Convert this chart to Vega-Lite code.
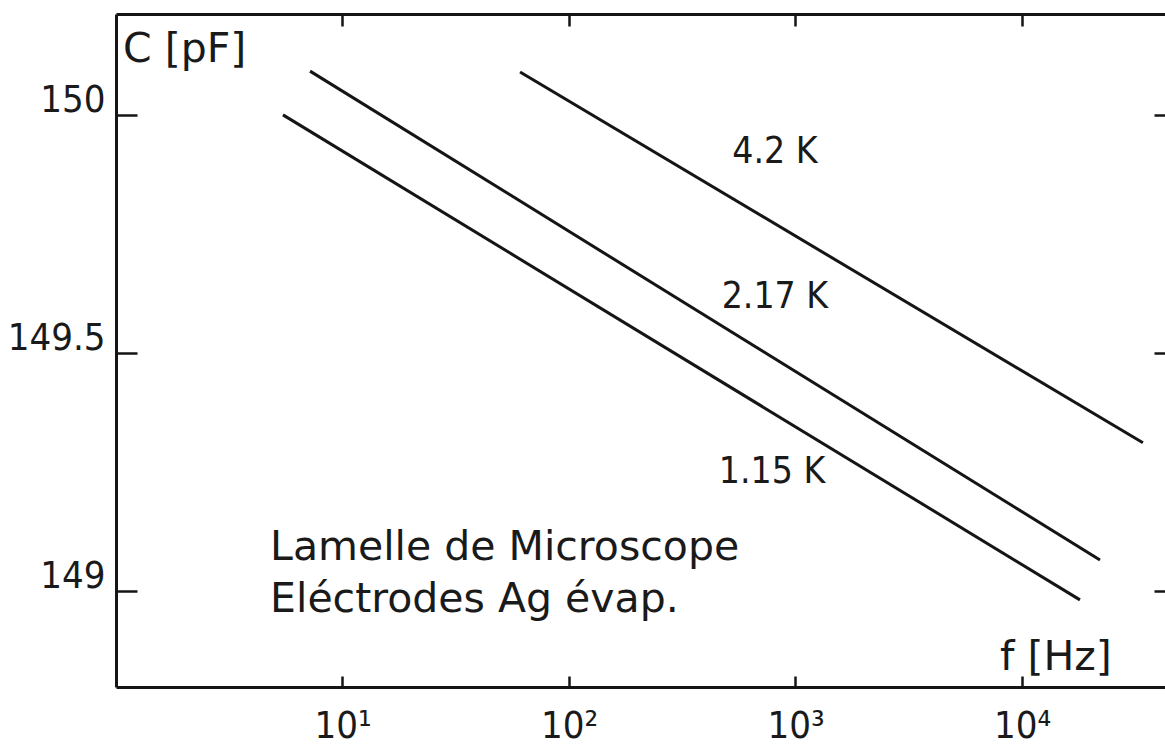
{
  "$schema": "https://vega.github.io/schema/vega-lite/v6.json",
  "autosize": {"type": "none"},
  "width": 1049,
  "height": 673,
  "padding": {"left": 116, "top": 14, "right": 0, "bottom": 63},
  "background": "white",
  "config": {
    "view": {"stroke": null},
    "font": "DejaVu Sans Condensed",
    "axis": {"grid": false, "domainColor": "#151515", "domainWidth": 3, "tickColor": "#151515", "tickWidth": 2.5, "labelColor": "#1a1a1a", "labelFont": "DejaVu Sans Condensed", "title": null}
  },
  "datasets": {
    "curves": [
      {"T": "1.15 K", "f": 5.46, "C": 150.0},
      {"T": "1.15 K", "f": 18030, "C": 148.981},
      {"T": "2.17 K", "f": 7.19, "C": 150.092},
      {"T": "2.17 K", "f": 22100, "C": 149.065},
      {"T": "4.2 K", "f": 60.8, "C": 150.09},
      {"T": "4.2 K", "f": 34200, "C": 149.311}
    ],
    "labels": [
      {"text": "4.2 K", "f": 811, "C": 149.922},
      {"text": "2.17 K", "f": 811, "C": 149.618},
      {"text": "1.15 K", "f": 788, "C": 149.25}
    ],
    "notes": [
      {"text": "C [pF]", "f": 1.074, "C": 150.137},
      {"text": "Lamelle de Microscope", "f": 4.79, "C": 149.09},
      {"text": "Eléctrodes Ag évap.", "f": 4.79, "C": 148.981},
      {"text": "f [Hz]", "f": 8000, "C": 148.859}
    ]
  },
  "resolve": {"axis": {"x": "independent", "y": "independent"}},
  "layer": [
    {
      "data": {"name": "curves"},
      "mark": {"type": "line", "color": "#151515", "strokeWidth": 3},
      "encoding": {
        "x": {"field": "f", "type": "quantitative",
          "scale": {"type": "log", "domain": [1, 42800], "nice": false},
          "axis": {"orient": "bottom", "values": [10, 100, 1000, 10000], "tickSize": -11, "labelPadding": 31, "labelFontSize": 38,
            "labelExpr": "datum.value == 10 ? '10¹' : datum.value == 100 ? '10²' : datum.value == 1000 ? '10³' : '10⁴'"}},
        "y": {"field": "C", "type": "quantitative",
          "scale": {"domain": [148.798, 150.212], "zero": false, "nice": false},
          "axis": {"orient": "left", "values": [149, 149.5, 150], "tickSize": -21, "labelPadding": 32, "labelFontSize": 38, "labelOffset": -14,
            "labelExpr": "datum.value == 149 ? '149' : datum.value == 150 ? '150' : '149.5'"}},
        "detail": {"field": "T"}
      }
    },
    {
      "data": {"name": "labels"},
      "mark": {"type": "text", "font": "DejaVu Sans Condensed", "fontSize": 37, "color": "#1a1a1a", "align": "center", "baseline": "middle"},
      "encoding": {
        "x": {"field": "f", "type": "quantitative", "scale": {"type": "log", "domain": [1, 42800], "nice": false},
          "axis": {"orient": "top", "values": [10, 100, 1000, 10000], "tickSize": -12, "labels": false}},
        "y": {"field": "C", "type": "quantitative", "scale": {"domain": [148.798, 150.212], "zero": false, "nice": false},
          "axis": {"orient": "right", "values": [149, 149.5, 150], "tickSize": -11, "labels": false, "domain": false}},
        "text": {"field": "text"}
      }
    },
    {
      "data": {"name": "notes"},
      "mark": {"type": "text", "font": "DejaVu Sans", "fontSize": 41, "color": "#1a1a1a", "align": "left", "baseline": "middle"},
      "encoding": {
        "x": {"field": "f", "type": "quantitative", "scale": {"type": "log", "domain": [1, 42800], "nice": false}, "axis": null},
        "y": {"field": "C", "type": "quantitative", "scale": {"domain": [148.798, 150.212], "zero": false, "nice": false}, "axis": null},
        "text": {"field": "text"}
      }
    }
  ]
}
